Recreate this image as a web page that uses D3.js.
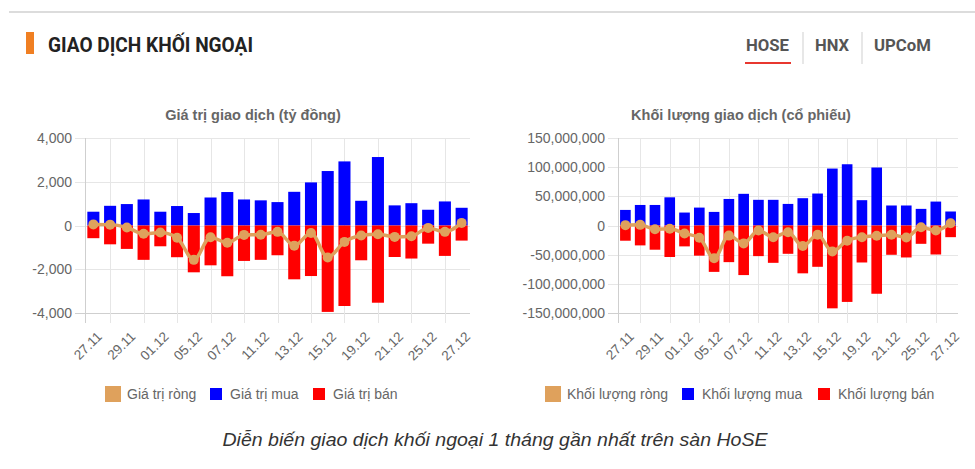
<!DOCTYPE html>
<html>
<head>
<meta charset="utf-8">
<script src="https://cdn.jsdelivr.net/npm/d3@7"></script>
<style>
html,body{margin:0;padding:0;background:#fff;}
svg{display:block;}
</style>
</head>
<body>
<svg id="chart" width="975" height="469"></svg>
<script>
// ---------- DATA ----------
const dates = ["27.11","28.11","29.11","30.11","01.12","04.12","05.12","06.12","07.12","08.12","11.12","12.12","13.12","14.12","15.12","18.12","19.12","20.12","21.12","22.12","25.12","26.12","27.12"];

// Giá trị giao dịch (tỷ đồng)
const valueBuy  = [630, 900, 980, 1190, 630, 890, 570, 1280, 1530, 1190, 1150, 1070, 1540, 1970, 2490, 2930, 1130, 3130, 920, 1020, 720, 1100, 810];
const valueSell = [-580, -860, -1070, -1570, -950, -1450, -2140, -1820, -2320, -1620, -1570, -1360, -2460, -2310, -3950, -3680, -1590, -3530, -1440, -1510, -830, -1390, -690];
const valueNet  = [50, 40, -90, -380, -320, -560, -1570, -540, -790, -430, -420, -290, -920, -340, -1460, -750, -460, -400, -520, -490, -110, -290, 120];

// Khối lượng giao dịch (cổ phiếu)
const volumeBuy  = [26700000, 35200000, 35200000, 48300000, 22200000, 30700000, 23300000, 45500000, 54300000, 44000000, 44000000, 37000000, 46800000, 54800000, 97600000, 105000000, 43400000, 99400000, 34300000, 34300000, 28500000, 41000000, 24000000];
const volumeSell = [-26100000, -34100000, -41500000, -54000000, -35800000, -51700000, -79500000, -62800000, -85000000, -52500000, -64000000, -48500000, -82000000, -70800000, -142000000, -131000000, -63400000, -117000000, -50200000, -54800000, -31400000, -49700000, -20000000];
const volumeNet  = [600000, 1100000, -6300000, -5700000, -13600000, -21000000, -56200000, -17300000, -30700000, -8500000, -20000000, -11500000, -35200000, -16000000, -44400000, -26000000, -20000000, -17600000, -15900000, -20500000, -2900000, -8700000, 4000000];

const valueTicks = [-4000, -2000, 0, 2000, 4000];
const valueTickLabels = ["-4,000", "-2,000", "0", "2,000", "4,000"];
const volumeTicks = [-150000000, -100000000, -50000000, 0, 50000000, 100000000, 150000000];
const volumeTickLabels = ["-150,000,000", "-100,000,000", "-50,000,000", "0", "50,000,000", "100,000,000", "150,000,000"];

const valueLegend = ["Giá trị ròng", "Giá trị mua", "Giá trị bán"];
const volumeLegend = ["Khối lượng ròng", "Khối lượng mua", "Khối lượng bán"];

const headerTitle = "GIAO DỊCH KHỐI NGOẠI";
const tabs = ["HOSE", "HNX", "UPCoM"];
const caption = "Diễn biến giao dịch khối ngoại 1 tháng gần nhất trên sàn HoSE";

// ---------- STYLE ----------
const BLUE = "#0000ff", RED = "#ff0000", NETC = "#dfa15c";
const GRID = "#e6e6e6", AXIS = "#cfcfcf", TXT = "#666";
const FONT = "'Liberation Sans', Arial, Helvetica, sans-serif";

const svg = d3.select("#chart");
svg.append("rect").attr("width", 975).attr("height", 469).attr("fill", "#fff");

// ---------- HEADER ----------
svg.append("line").attr("x1", 9).attr("x2", 975).attr("y1", 12).attr("y2", 12)
  .attr("stroke", "#dcdcdc").attr("stroke-width", 2);
svg.append("rect").attr("x", 26).attr("y", 32).attr("width", 8).attr("height", 22).attr("fill", "#f07f22");
svg.append("text").attr("x", 48).attr("y", 52).text(headerTitle)
  .attr("font-family", "Roboto, sans-serif").attr("font-weight", "bold").attr("font-size", 20)
  .attr("fill", "#222").attr("textLength", 205).attr("lengthAdjust", "spacingAndGlyphs");

const tabX = [746, 815, 874];
const tabW = [43, 34, 57];
tabs.forEach((t, i) => {
  svg.append("text").attr("x", tabX[i]).attr("y", 51).text(t)
    .attr("font-family", "Roboto, sans-serif").attr("font-weight", "bold").attr("font-size", 17)
    .attr("fill", "#555").attr("textLength", tabW[i]).attr("lengthAdjust", "spacingAndGlyphs");
});
svg.append("rect").attr("x", 745).attr("y", 62).attr("width", 46).attr("height", 2).attr("fill", "#e8372f");
[803, 862].forEach(x => svg.append("line").attr("x1", x).attr("x2", x).attr("y1", 32).attr("y2", 64)
  .attr("stroke", "#cfcfcf").attr("stroke-width", 1));

// ---------- CHART FUNCTION ----------
function drawChart(cfg) {
  const g = svg.append("g");
  const x = d3.scaleBand().domain(dates).range([cfg.x0, cfg.x1]).paddingInner(0).paddingOuter(0);
  const y = d3.scaleLinear().domain(cfg.domain).range([313, 138]);
  const cx = d => x(d) + x.bandwidth() / 2;
  const bw = x.bandwidth() * 0.72;

  // title
  g.append("text").attr("x", cfg.titleX).attr("y", 120).attr("text-anchor", "middle")
    .attr("font-family", FONT).attr("font-weight", "bold").attr("font-size", 14.5).attr("fill", TXT)
    .text(cfg.title);

  // horizontal grid + y labels
  cfg.ticks.forEach((t, i) => {
    const yy = Math.round(y(t)) + 0.5;
    g.append("line").attr("x1", cfg.x0 - 10).attr("x2", cfg.x1).attr("y1", yy).attr("y2", yy)
      .attr("stroke", i === 0 ? AXIS : GRID).attr("stroke-width", 1);
    g.append("text").attr("x", cfg.x0 - 13).attr("y", yy).attr("dy", "0.35em")
      .attr("text-anchor", "end").attr("font-family", FONT).attr("font-size", 14).attr("fill", TXT)
      .text(cfg.tickLabels[i]);
  });

  // vertical grid lines (between shown labels)
  dates.forEach((d, i) => {
    if (i % 2 === 1) {
      const xx = Math.round(cx(d)) + 0.5;
      g.append("line").attr("x1", xx).attr("x2", xx).attr("y1", 138).attr("y2", 323)
        .attr("stroke", GRID).attr("stroke-width", 1);
    }
  });
  // left axis line
  g.append("line").attr("x1", cfg.x0 + 0.5).attr("x2", cfg.x0 + 0.5).attr("y1", 138).attr("y2", 323)
    .attr("stroke", AXIS).attr("stroke-width", 1);

  // x labels
  dates.forEach((d, i) => {
    if (i % 2 === 0) {
      g.append("text")
        .attr("transform", `translate(${cx(d) + 6},${334}) rotate(-45)`)
        .attr("text-anchor", "end").attr("dy", "0.35em")
        .attr("font-family", FONT).attr("font-size", 13.5).attr("fill", TXT).text(d);
    }
  });

  // bars
  g.selectAll(null).data(cfg.buy).enter().append("rect")
    .attr("x", (v, i) => cx(dates[i]) - bw / 2).attr("width", bw)
    .attr("y", v => y(v)).attr("height", v => y(0) - y(v)).attr("fill", BLUE);
  g.selectAll(null).data(cfg.sell).enter().append("rect")
    .attr("x", (v, i) => cx(dates[i]) - bw / 2).attr("width", bw)
    .attr("y", y(0)).attr("height", v => y(v) - y(0)).attr("fill", RED);

  // net line
  const line = d3.line().x((v, i) => cx(dates[i])).y(v => y(v)).curve(d3.curveMonotoneX);
  g.append("path").datum(cfg.net).attr("d", line).attr("fill", "none")
    .attr("stroke", NETC).attr("stroke-width", 3.5);
  g.selectAll(null).data(cfg.net).enter().append("circle")
    .attr("cx", (v, i) => cx(dates[i])).attr("cy", v => y(v)).attr("r", 5).attr("fill", NETC);

  // legend
  const lg = g.append("g");
  const colors = [NETC, BLUE, RED];
  cfg.legend.forEach((name, i) => {
    const bx = cfg.legendX[i];
    const s = i === 0 ? 16 : 12;
    lg.append("rect").attr("x", bx + (16 - s) / 2).attr("y", 394 - s / 2).attr("width", s).attr("height", s)
      .attr("fill", colors[i]);
    lg.append("text").attr("x", bx + 22).attr("y", 394).attr("dy", "0.35em")
      .attr("font-family", FONT).attr("font-size", 14).attr("fill", TXT).text(name);
  });
}

drawChart({
  x0: 85, x1: 470, domain: [-4000, 4000], ticks: valueTicks, tickLabels: valueTickLabels,
  buy: valueBuy, sell: valueSell, net: valueNet, title: "Giá trị giao dịch (tỷ đồng)", titleX: 253,
  legend: valueLegend, legendX: [105, 208, 311]
});
drawChart({
  x0: 618, x1: 958, domain: [-150000000, 150000000], ticks: volumeTicks, tickLabels: volumeTickLabels,
  buy: volumeBuy, sell: volumeSell, net: volumeNet, title: "Khối lượng giao dịch (cổ phiếu)", titleX: 741,
  legend: volumeLegend, legendX: [545, 680, 816]
});

// caption
svg.append("text").attr("x", 495).attr("y", 446).attr("text-anchor", "middle")
  .attr("font-family", FONT).attr("font-style", "italic").attr("font-size", 18).attr("fill", "#333")
  .attr("textLength", 545).attr("lengthAdjust", "spacingAndGlyphs").text(caption);
</script>
</body>
</html>
